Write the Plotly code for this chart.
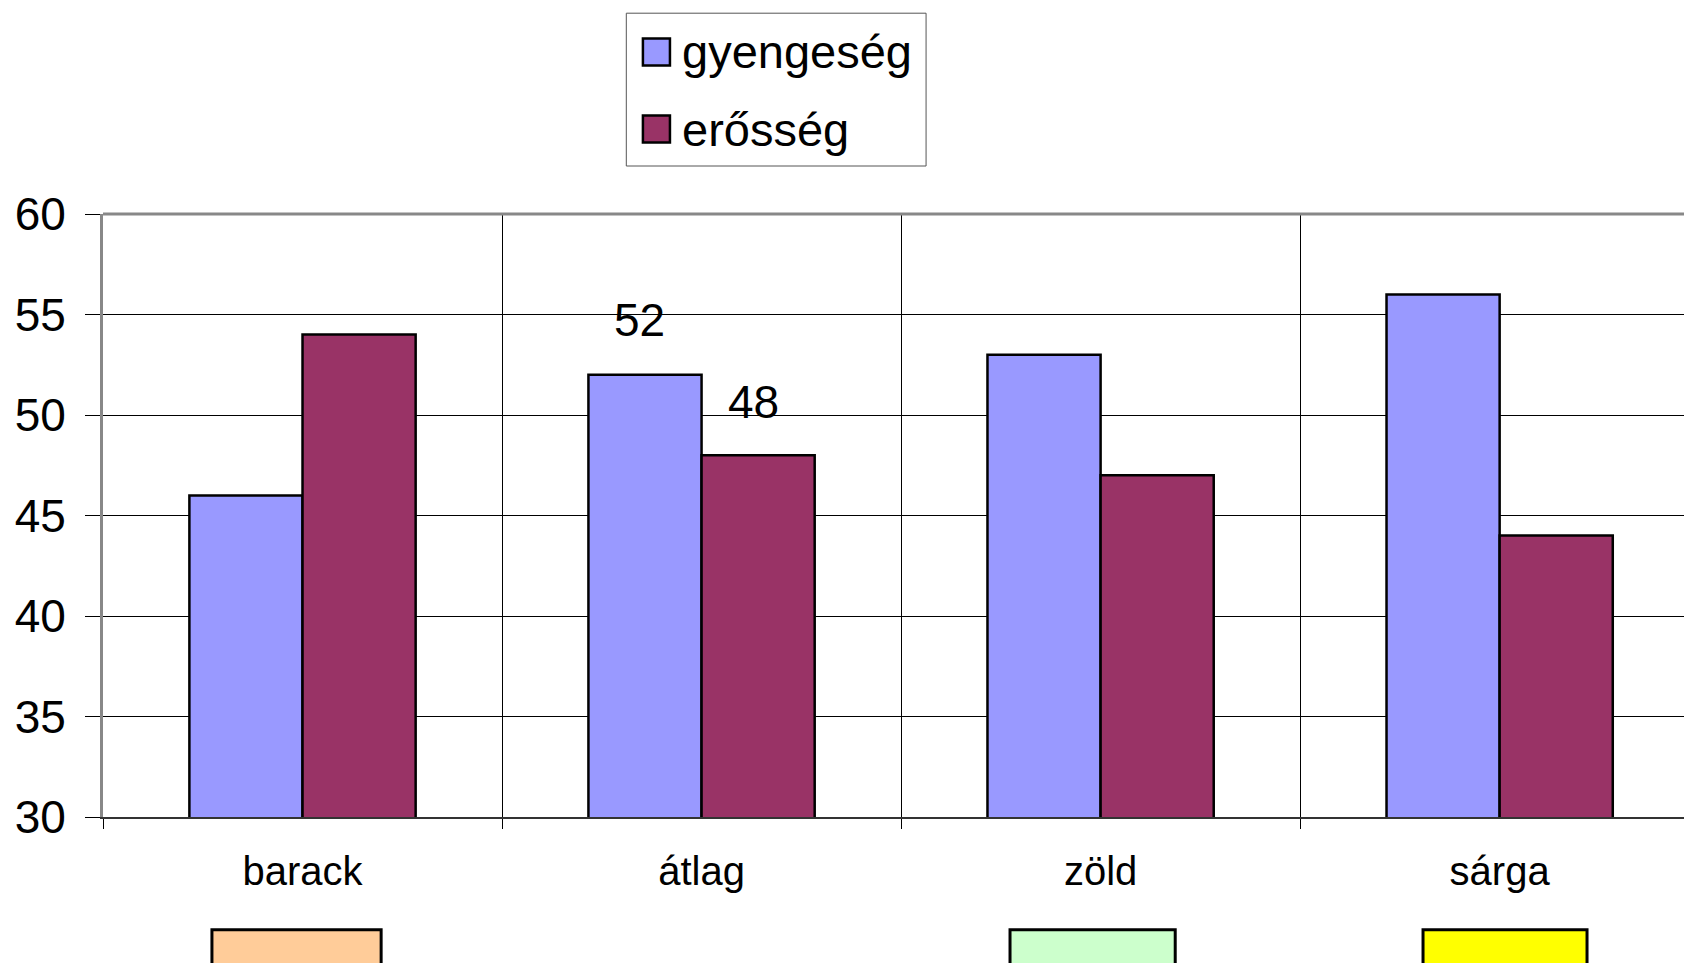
import plotly.graph_objects as go

# Données
categories = ["barack", "átlag", "zöld", "sárga"]
series_names = ["gyengeség", "erősség"]
gyengeseg = [46, 52, 53, 56]
erosseg = [54, 48, 47, 44]
series_colors = ["#9999FF", "#993366"]
# étiquettes de valeur affichées seulement pour la catégorie "átlag"
labelled_category = "átlag"
# pastilles de couleur sous les catégories (None = pas de pastille)
swatch_colors = ["#FFCC99", None, "#CCFFCC", "#FFFF00"]

FONT = "Liberation Sans, Arial, sans-serif"

fig = go.Figure()
for name, vals, col in zip(series_names, [gyengeseg, erosseg], series_colors):
    fig.add_trace(go.Bar(
        x=categories, y=vals, name=name,
        marker=dict(color=col, line=dict(color="black", width=2.5)),
        showlegend=False,
    ))

# Étiquettes de valeur (52 et 48)
idx = categories.index(labelled_category)
for vals, xs, ys in [(gyengeseg, -62, 55), (erosseg, 52, 53)]:
    fig.add_annotation(
        x=labelled_category, y=vals[idx], text=str(vals[idx]),
        xref="x", yref="y", showarrow=False, xshift=xs, yshift=ys,
        font=dict(family=FONT, size=46, color="black"),
    )

shapes = []
# bordure supérieure grise du cadre
shapes.append(dict(type="line", xref="paper", yref="paper", x0=0, x1=1, y0=1, y1=1,
                   line=dict(color="#888888", width=3)))

# Légende manuelle (coordonnées papier, largeur de tracé 1581 px)
shapes.append(dict(type="rect", xref="paper", yref="paper", x0=0.3310, x1=0.5206,
                   y0=1.0796, y1=1.333, line=dict(color="#555555", width=1),
                   fillcolor="white"))
leg_y = [1.2687, 1.1409]
for name, col, ly in zip(series_names, series_colors, leg_y):
    shapes.append(dict(type="rect", xref="paper", yref="paper",
                       x0=0.3415, x1=0.3586, y0=ly - 0.0224, y1=ly + 0.0224,
                       fillcolor=col, line=dict(color="black", width=2.5)))
    fig.add_annotation(x=0.3651, y=ly, xref="paper", yref="paper", text=name,
                       showarrow=False, xanchor="left", yanchor="middle",
                       font=dict(family=FONT, size=47, color="black"))

# Pastilles sous les catégories
swatch_pos = [(-0.227, 0.197), None, (-0.227, 0.187), (-0.192, 0.219)]
for i, (col, pos) in enumerate(zip(swatch_colors, swatch_pos)):
    if col is None:
        continue
    shapes.append(dict(type="rect", xref="x", yref="paper",
                       x0=i + pos[0], x1=i + pos[1], y0=-0.27, y1=-0.187,
                       fillcolor=col, line=dict(color="black", width=3)))

fig.update_layout(
    width=1684, height=963,
    barmode="group", bargap=0.433, bargroupgap=0,
    plot_bgcolor="white", paper_bgcolor="white",
    margin=dict(l=103, r=0, t=214, b=146),
    font=dict(family=FONT, color="black"),
    shapes=shapes,
    xaxis=dict(
        range=[-0.5, 3.462], tickson="boundaries", ticks="outside", ticklen=10,
        tickcolor="black", showgrid=True, gridcolor="black", gridwidth=1,
        showline=True, linecolor="#333333", linewidth=2,
        tickfont=dict(family=FONT, size=40), ticklabelstandoff=18,
        fixedrange=True,
    ),
    yaxis=dict(
        range=[30, 60], dtick=5, ticks="outside", ticklen=15, tickcolor="black",
        showgrid=True, gridcolor="black", gridwidth=1,
        showline=True, linecolor="#888888", linewidth=3,
        tickfont=dict(family=FONT, size=46), ticklabelstandoff=10,
        zeroline=False,
    ),
)

# la page n'a pas de marge autour du graphique
fig.write_html(
    "out.html",
    config={"displayModeBar": False},
    post_script="document.body.style.margin='0';document.body.style.overflow='hidden';",
)
